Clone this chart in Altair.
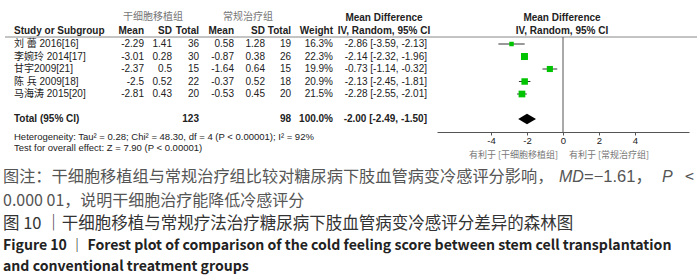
import altair as alt
import pandas as pd

# ---------------- data ----------------
studies = ["刘 蕾 2016[16]", "李婉玲 2014[17]", "甘宇2009[21]", "陈 兵 2009[18]", "马海涛 2015[20]"]
exp_mean = [-2.29, -3.01, -2.37, -2.5, -2.81]
exp_sd = [1.41, 0.28, 0.5, 0.52, 0.43]
exp_total = [36, 30, 15, 22, 20]
ctl_mean = [0.58, -0.87, -1.64, -0.37, -0.53]
ctl_sd = [1.28, 0.38, 0.64, 0.52, 0.45]
ctl_total = [19, 26, 15, 18, 20]
weights = [16.3, 22.3, 19.9, 20.9, 21.5]
md = [-2.86, -2.14, -0.73, -2.13, -2.28]
md_lo = [-3.59, -2.32, -1.14, -2.45, -2.55]
md_hi = [-2.13, -1.96, -0.32, -1.81, -2.01]

total_exp = 123
total_ctl = 98
total_weight = 100.0
total_md = -2.00
total_lo = -2.49
total_hi = -1.50

tick_values = [-4, -2, 0, 2, 4]

heterogeneity = "Heterogeneity: Tau² = 0.28; Chi² = 48.30, df = 4 (P < 0.00001); I² = 92%"
overall = "Test for overall effect: Z = 7.90 (P < 0.00001)"
favours_left = "有利于 [干细胞移植组]"
favours_right = "有利于 [常规治疗组]"
caption_line1 = ["图注：干细胞移植组与常规治疗组比较对糖尿病下肢血管病变冷感评分影响，", "MD", "=−1.61，", "P", "<"]
caption_line2 = "0.000 01，说明干细胞治疗能降低冷感评分"
title_cn = "图 10 ｜干细胞移植与常规疗法治疗糖尿病下肢血管病变冷感评分差异的森林图"
title_en = [
    "Figure 10 ｜ Forest plot of comparison of the cold feeling score between stem cell transplantation",
    "and conventional treatment groups",
]

# ---------------- tables ----------------
fmt2 = lambda v: f"{v:.2f}"
df = pd.DataFrame({
    "row": list(range(1, len(studies) + 1)),
    "study": studies,
    "em": [str(v) for v in exp_mean],
    "es": [str(v) for v in exp_sd],
    "et": [str(v) for v in exp_total],
    "cm": [str(v) for v in ctl_mean],
    "cs": [str(v) for v in ctl_sd],
    "ct": [str(v) for v in ctl_total],
    "w": [f"{v:.1f}%" for v in weights],
    "ci": [f"{fmt2(a)} [{fmt2(b)}, {fmt2(c)}]" for a, b, c in zip(md, md_lo, md_hi)],
    "md": md, "lo": md_lo, "hi": md_hi, "weight": weights,
})

TOTAL_ROW = 7
tot = pd.DataFrame({
    "row": [TOTAL_ROW],
    "study": ["Total (95% CI)"],
    "et": [str(total_exp)],
    "ct": [str(total_ctl)],
    "w": [f"{total_weight:.1f}%"],
    "ci": [f"{fmt2(total_md)} [{fmt2(total_lo)}, {fmt2(total_hi)}]"],
})

HALF = 0.42
dia = pd.DataFrame({
    "x": [total_lo, total_md, total_hi],
    "y": [TOTAL_ROW, TOTAL_ROW - HALF, TOTAL_ROW],
    "y2": [TOTAL_ROW, TOTAL_ROW + HALF, TOTAL_ROW],
})

# ---------------- styling ----------------
FONT = "Liberation Sans, Arial, 'Noto Sans CJK SC'"
CJK = "'Noto Sans CJK SC'"
TXT = "#222222"

ysc = alt.Scale(domain=[1, TOTAL_ROW], range=[44, 119], nice=False, zero=False)
xsc = alt.Scale(domain=[-7, 7], range=[437, 689], nice=False, zero=False)
xaxis = alt.Axis(values=tick_values, offset=-145, title=None, grid=False,
                 domainColor="#555", tickColor="#555", tickSize=3, domainWidth=1,
                 labelFont=FONT, labelFontSize=9.5, labelColor=TXT,
                 labelExpr="datum.value", labelPadding=0)

layers = []


def col_text(data, field, xpx, align, bold=False):
    return alt.Chart(data).mark_text(
        align=align, baseline="middle", font=FONT, fontSize=10,
        fontWeight="bold" if bold else "normal", color=TXT
    ).encode(x=alt.value(xpx), y=alt.Y("row:Q", scale=ysc, axis=None), text=f"{field}:N")


def label(s, xpx, ypx, align="left", size=10, bold=False, color=TXT, font=FONT, italic=False):
    kw = {"fontStyle": "italic"} if italic else {}
    return alt.Chart(pd.DataFrame({"t": [s]})).mark_text(
        align=align, baseline="middle", font=font, fontSize=size,
        fontWeight="bold" if bold else "normal", color=color, **kw
    ).encode(x=alt.value(xpx), y=alt.value(ypx), text="t:N")


# header texts
layers += [
    label("干细胞移植组", 153, 17, "center", 10, color="#777", font=CJK),
    label("常规治疗组", 248, 17, "center", 10, color="#777", font=CJK),
    label("Mean Difference", 384, 18, "center", 10, True),
    label("Mean Difference", 562, 18, "center", 10, True),
    label("Study or Subgroup", 14, 31, "left", 10, True),
    label("Mean", 144, 31, "right", 10, True),
    label("SD", 172, 31, "right", 10, True),
    label("Total", 199, 31, "right", 10, True),
    label("Mean", 234, 31, "right", 10, True),
    label("SD", 265, 31, "right", 10, True),
    label("Total", 291, 31, "right", 10, True),
    label("Weight", 333, 31, "right", 10, True),
    label("IV, Random, 95% CI", 384, 31, "center", 10, True),
    label("IV, Random, 95% CI", 562, 31, "center", 10, True),
]

# header underline
layers.append(alt.Chart(pd.DataFrame({"a": [0]})).mark_rule(color="#888", strokeWidth=1).encode(
    x=alt.value(5), x2=alt.value(697), y=alt.value(37)))

# study rows
layers += [
    col_text(df, "study", 14, "left"),
    col_text(df, "em", 144, "right"),
    col_text(df, "es", 172, "right"),
    col_text(df, "et", 199, "right"),
    col_text(df, "cm", 234, "right"),
    col_text(df, "cs", 265, "right"),
    col_text(df, "ct", 291, "right"),
    col_text(df, "w", 333, "right"),
    col_text(df, "ci", 427, "right"),
]
# total row
layers += [
    col_text(tot, "study", 14, "left", True),
    col_text(tot, "et", 199, "right", True),
    col_text(tot, "ct", 291, "right", True),
    col_text(tot, "w", 333, "right", True),
    col_text(tot, "ci", 427, "right", True),
]

# footnotes
layers += [
    label(heterogeneity, 14, 137, "left", 9.5),
    label(overall, 14, 148, "left", 9.5),
]

# zero line
layers.append(alt.Chart(pd.DataFrame({"a": [0]})).mark_rule(color="#555", strokeWidth=1).encode(
    x=alt.X("a:Q", scale=xsc, axis=xaxis), y=alt.value(37), y2=alt.value(132)))

# CI lines
layers.append(alt.Chart(df).mark_rule(color="#333", strokeWidth=1).encode(
    x=alt.X("lo:Q", scale=xsc, axis=xaxis), x2="hi:Q",
    y=alt.Y("row:Q", scale=ysc, axis=None)))

# squares
layers.append(alt.Chart(df).mark_square(color="#00c400", opacity=1).encode(
    x=alt.X("md:Q", scale=xsc, axis=xaxis),
    y=alt.Y("row:Q", scale=ysc, axis=None),
    size=alt.Size("weight:Q", scale=alt.Scale(domain=[15, 23], range=[14, 52]), legend=None)))

# diamond
layers.append(alt.Chart(dia).mark_area(color="black", opacity=1).encode(
    x=alt.X("x:Q", scale=xsc, axis=xaxis),
    y=alt.Y("y:Q", scale=ysc, axis=None), y2="y2:Q"))

# favours labels
layers += [
    alt.Chart(pd.DataFrame({"t": [favours_left]})).mark_text(
        align="right", baseline="middle", font=CJK, fontSize=9, color="#777", dx=-5
    ).encode(x=alt.datum(0, scale=xsc), y=alt.value(155), text="t:N"),
    alt.Chart(pd.DataFrame({"t": [favours_right]})).mark_text(
        align="left", baseline="middle", font=CJK, fontSize=9, color="#777", dx=6
    ).encode(x=alt.datum(0, scale=xsc), y=alt.value(155), text="t:N"),
]

# captions
CAP = "#555555"
layers += [
    label(caption_line1[0], 3, 177, "left", 16.2, color=CAP, font=CJK),
    label(caption_line1[1], 559, 177, "left", 16, color=CAP, font=FONT, italic=True),
    label(caption_line1[2], 584, 177, "left", 16.5, color=CAP, font=FONT),
    label(caption_line1[3], 662, 177, "left", 16, color=CAP, font=FONT, italic=True),
    label(caption_line1[4], 694, 177, "right", 16, color=CAP, font=CJK),
    label(caption_line2, 3, 201, "left", 16, color=CAP, font=CJK),
    label(title_cn, 3, 224, "left", 16.5, color="#333", font=CJK),
    label(title_en[0], 3, 246, "left", 14.1, True, color="#222", font=CJK),
    label(title_en[1], 3, 267, "left", 14.1, True, color="#222", font=CJK),
]

chart = alt.layer(*layers).properties(
    width=700, height=277, padding=0, autosize=alt.AutoSizeParams(type="none"),
    background="white"
).configure_view(stroke=None)

chart.save("out.html", embed_options={"renderer": "svg", "actions": False})
